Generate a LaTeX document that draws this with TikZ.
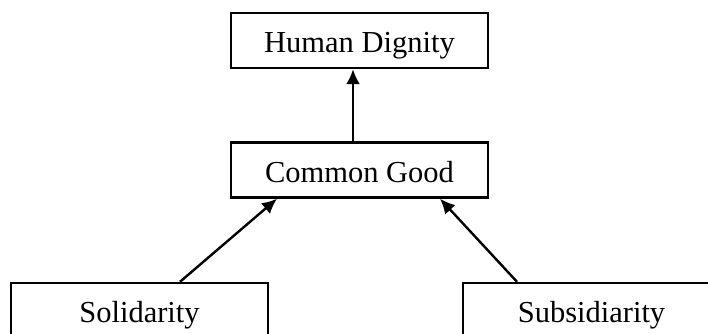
\documentclass[tikz,border=0pt]{standalone}
\usepackage{fontspec}
\setmainfont{Liberation Serif}
\usetikzlibrary{arrows.meta}

\begin{document}
\begin{tikzpicture}[x=1pt, y=-1pt,
  box/.style = {draw, line width=2.4pt, minimum width=257pt, minimum height=55pt,
                inner sep=0pt, text height=24pt, text depth=0pt,
                font=\fontsize{30.5}{36}\selectfont},
  up/.style = {-{Latex[length=15pt, width=14pt]}, line width=2.4pt}]
\useasboundingbox (0,0) rectangle (708,333);
\clip (0,0) rectangle (708,333);

\node[box] (hd)  at (359.5,40.5)  {Human Dignity};
\node[box] (cg)  at (359.5,170)   {Common Good};
\node[box] (sol) at (139.5,310.5) {Solidarity};
\node[box] (sub) at (591.5,310.5) {Subsidiarity};

\draw[up] ([xshift=-6.5pt]cg.north) -- ([xshift=-6.5pt]hd.south);
\draw[up] ([xshift=40.5pt]sol.north) -- ([xshift=-82.5pt]cg.south);
\draw[up] ([xshift=-74.5pt]sub.north) -- ([xshift=80.5pt]cg.south);
\end{tikzpicture}
\end{document}
